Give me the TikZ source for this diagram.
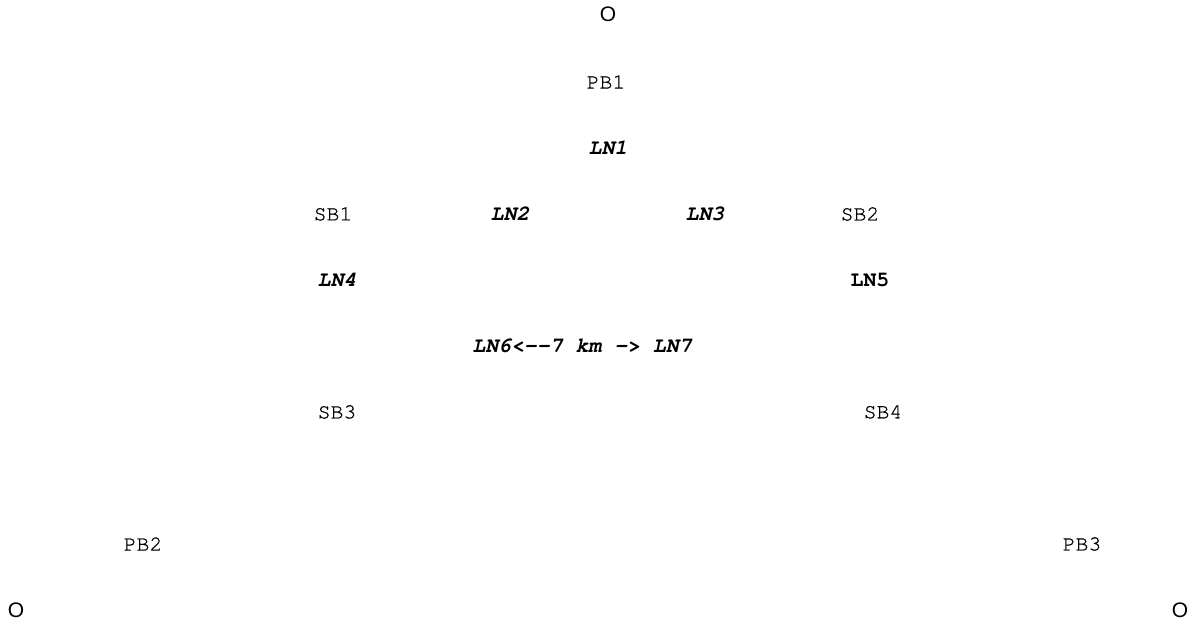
\documentclass[tikz,border=0pt]{standalone}
\usepackage{fontspec}
\setmonofont{TeX Gyre Cursor}[UprightFeatures={FakeBold=0.7}]
\newfontfamily\pointfont{Liberation Sans}
\begin{document}
\begin{tikzpicture}[
		x=1pt, y=-1pt,
		base/.style={font=\fontsize{21.5}{24}\selectfont\ttfamily, inner sep=0pt},
		site/.style={font=\fontsize{21}{24}\selectfont\pointfont, inner sep=0pt},
		line/.style={base, font=\fontsize{21.5}{24}\selectfont\ttfamily\bfseries\itshape},
		boldline/.style={base, font=\fontsize{21.5}{24}\selectfont\ttfamily\bfseries},
	]
		\useasboundingbox (0,0) rectangle (1200,631);

		\node[site] (otop) at (608,14) {O};
		\node[base] (pb1) at (606,82) {PB1};
		\node[line] (ln1) at (608,148) {LN1};

		\node[base] (sb1) at (333,214) {SB1};
		\node[line] (ln2) at (510,214) {LN2};
		\node[line] (ln3) at (705,214) {LN3};
		\node[base] (sb2) at (860,214) {SB2};

		\node[line] (ln4) at (337,280) {LN4};
		\node[boldline] (ln5) at (870,280) {LN5};

		\node[line] (ln67) at (582,346) {LN6<{-}{-}7 km {-}> LN7};

		\node[base] (sb3) at (337,412) {SB3};
		\node[base] (sb4) at (883,412) {SB4};

		\node[base] (pb2) at (143,544) {PB2};
		\node[base] (pb3) at (1082,544) {PB3};

		\node[site] (oleft) at (16,610) {O};
		\node[site] (oright) at (1180,610) {O};
	\end{tikzpicture}
\end{document}
